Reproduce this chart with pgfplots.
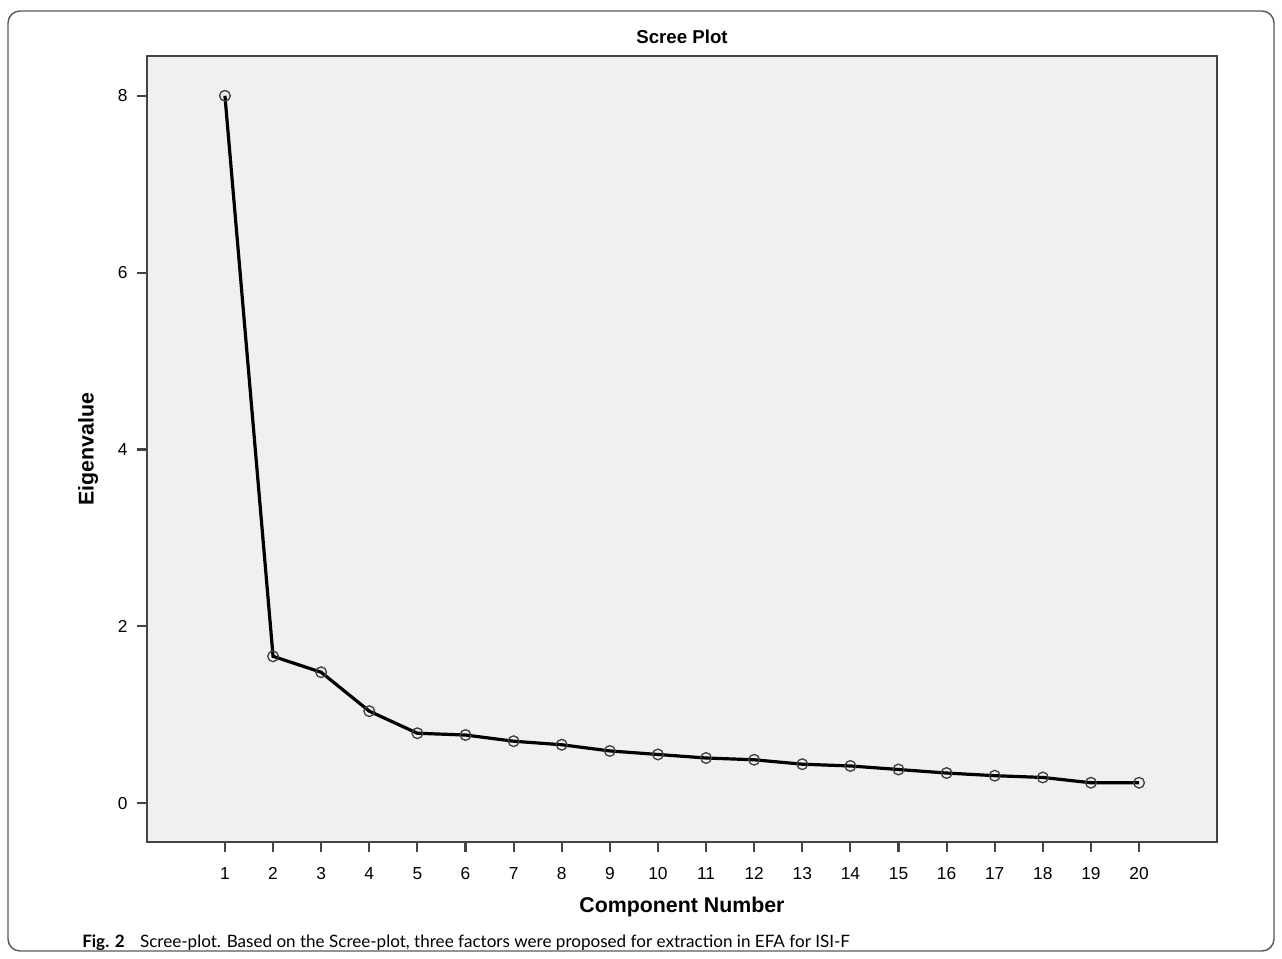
\documentclass[border=0pt]{standalone}
\usepackage{fontspec}
\setmainfont{Liberation Sans}
\newfontfamily\capfont{Lato}
\usepackage{pgfplots}
\pgfplotsset{compat=1.18}
\definecolor{plotbg}{HTML}{F0F0F0}
\definecolor{framegray}{HTML}{444444}

\begin{document}
\begin{tikzpicture}
\useasboundingbox (0,0) rectangle (961.5pt,718.5pt);
\draw[rounded corners=9pt, line width=1.1pt, black!65] (6pt,5.25pt) rectangle (955.5pt,710.25pt);
\begin{axis}[
    at={(110.25pt,87pt)}, anchor=south west,
    scale only axis, width=802.5pt, height=589.5pt,
    xmin=-0.62, xmax=21.62,
    ymin=-0.44, ymax=8.45,
    xtick={1,...,20},
    ytick={0,2,4,6,8},
    tick align=outside, tick pos=left,
    major tick length=7.5pt,
    every tick/.style={framegray, line width=1.6pt},
    axis line style={framegray, line width=1.5pt},
    axis background/.style={fill=plotbg},
    /pgf/number format/assume math mode=true,
    tick label style={font=\fontsize{13}{15}\selectfont, inner sep=0pt},
    xticklabel style={text height=9.4pt, text depth=0pt},
    xticklabel shift=11pt,
    yticklabel shift=7pt,
    title={Scree Plot},
    title style={font=\bfseries\fontsize{14}{17}\selectfont, at={(axis description cs:0.5,1.0140)}, anchor=center},
    xlabel={Component Number},
    xlabel style={font=\bfseries\fontsize{16}{19}\selectfont, at={(axis description cs:0.5,-0.0827)}, anchor=center},
    ylabel={Eigenvalue},
    ylabel style={font=\bfseries\fontsize{16}{19}\selectfont, at={(axis description cs:-0.0551,0.5)}, anchor=center},
]

\addplot[
    black, line width=2.4pt,
    mark=o, mark size=4pt,
    mark options={draw=black!75, line width=1pt, fill=none},
    ]
    coordinates {
    (1,8.00)(2,1.66)(3,1.48)(4,1.04)(5,0.79)(6,0.77)(7,0.70)(8,0.66)(9,0.59)(10,0.55)
    (11,0.51)(12,0.49)(13,0.44)(14,0.42)(15,0.38)(16,0.34)(17,0.31)(18,0.29)(19,0.23)(20,0.23)
    };
\end{axis}

\node[anchor=base west, inner sep=0pt, font=\capfont\fontsize{12.8}{15}\selectfont]
    at (61.5pt,8pt)
    {\textbf{Fig. 2}\hspace{0.9em}Scree-plot. Based on the Scree-plot, three factors were proposed for extraction in EFA for ISI-F};
\end{tikzpicture}
\end{document}
